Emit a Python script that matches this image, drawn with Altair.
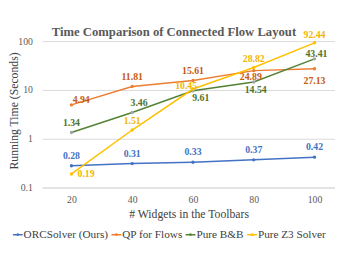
import altair as alt
import pandas as pd

widgets = [20, 40, 60, 80, 100]
series = ["ORCSolver (Ours)", "QP for Flows", "Pure B&B", "Pure Z3 Solver"]
orc = [0.28, 0.31, 0.33, 0.37, 0.42]
qp = [4.94, 11.81, 15.61, 24.89, 27.13]
bb = [1.34, 3.46, 9.61, 14.54, 43.41]
z3 = [0.19, 1.51, 10.45, 28.82, 92.44]
values = [orc, qp, bb, z3]

# styles
line_colors = ["#4472C4", "#ED7D31", "#548235", "#FFC000"]
marker_colors = ["#4472C4", "#ED7D31", "#A5A5A5", "#FFC000"]
label_colors = ["#4472C4", "#C55A11", "#4E7330", "#F2B600"]
# label offsets (dx, dy) relative to each point
label_offsets = [
    [(0, -10), (0, -10), (0, -10), (0, -10), (0, -10)],
    [(10, -5), (0, -10), (0, -10), (-3, 7), (0, 13)],
    [(0, -10), (7, -10), (8, 7), (2, 8), (2, -5)],
    [(15, 0), (0, -9), (-7, -3), (0, -9), (0, -8)],
]

rows = []
for si, name in enumerate(series):
    for wi, w in enumerate(widgets):
        dx, dy = label_offsets[si][wi]
        rows.append({
            "widget": w, "series": name, "value": values[si][wi],
            "mcolor": marker_colors[si], "lcolor": label_colors[si],
            "off": f"{dx}_{dy}", "order": si,
        })
df = pd.DataFrame(rows)

FONT = "Times New Roman, Liberation Serif, serif"

x = alt.X("widget:Q",
          scale=alt.Scale(domain=[10.36, 106.75], nice=False, zero=False),
          axis=alt.Axis(values=widgets, title="# Widgets in the Toolbars",
                        grid=False, ticks=False, domainColor="#D9D9D9",
                        labelFont=FONT, labelFontSize=10, labelColor="#595959",
                        labelPadding=7, titleFont=FONT, titleFontSize=12,
                        titleFontWeight="normal", titleColor="#404040",
                        titlePadding=5))
y = alt.Y("value:Q",
          scale=alt.Scale(type="log", domain=[0.1, 100], nice=False),
          axis=alt.Axis(values=[0.1, 1, 10, 100], format="~g",
                        title="Running Time (Seconds)", grid=True,
                        gridColor="#D9D9D9", domain=False, ticks=False,
                        labelFont=FONT, labelFontSize=10, labelColor="#595959",
                        labelPadding=10, titleFont=FONT, titleFontSize=12,
                        titleFontWeight="normal", titleColor="#404040",
                        titleX=-22, titleY=71))

base = alt.Chart(df)

legend_path = "M-1,0H1M0.12,0a0.12,0.12 0 1,0 -0.24,0a0.12,0.12 0 1,0 0.24,0"

lines = base.mark_line(strokeWidth=1.5).encode(
    x=x, y=y,
    color=alt.Color("series:N", scale=alt.Scale(domain=series, range=line_colors),
                    sort=series,
                    legend=alt.Legend(orient="none", legendX=-31, legendY=192,
                                      direction="horizontal", title=None,
                                      symbolType=legend_path, symbolSize=100,
                                      symbolStrokeWidth=1.5, padding=0,
                                      labelFont=FONT, labelFontSize=11.5,
                                      labelColor="#404040", columnPadding=0,
                                      labelOffset=0, columns=4)),
    order="order:Q",
)

points = base.mark_circle(size=12, opacity=1).encode(
    x=x, y=y, color=alt.Color("mcolor:N", scale=None)
)

label_layers = []
for key in sorted(df["off"].unique()):
    dx, dy = (int(v) for v in key.split("_"))
    label_layers.append(
        base.transform_filter(alt.datum.off == key).mark_text(
            dx=dx, dy=dy, font=FONT, fontSize=10, fontWeight="bold",
            align="center", baseline="middle"
        ).encode(x=x, y=y, text=alt.Text("value:Q", format=".2f"),
                 color=alt.Color("lcolor:N", scale=None))
    )

chart = alt.layer(lines, points, *label_layers).properties(
    width=300, height=150,
    autosize=alt.AutoSizeParams(type="none"),
    padding={"left": 35, "top": 31, "right": 0, "bottom": 61},
    title=alt.TitleParams("Time Comparison of Connected Flow Layout",
                          font=FONT, fontSize=13, fontWeight="bold",
                          color="#595959", anchor="middle", frame="group",
                          baseline="alphabetic", offset=8, dx=-15, dy=27),
).configure_view(stroke=None)

chart.save("out.html", embed_options={"renderer": "svg", "actions": False})
